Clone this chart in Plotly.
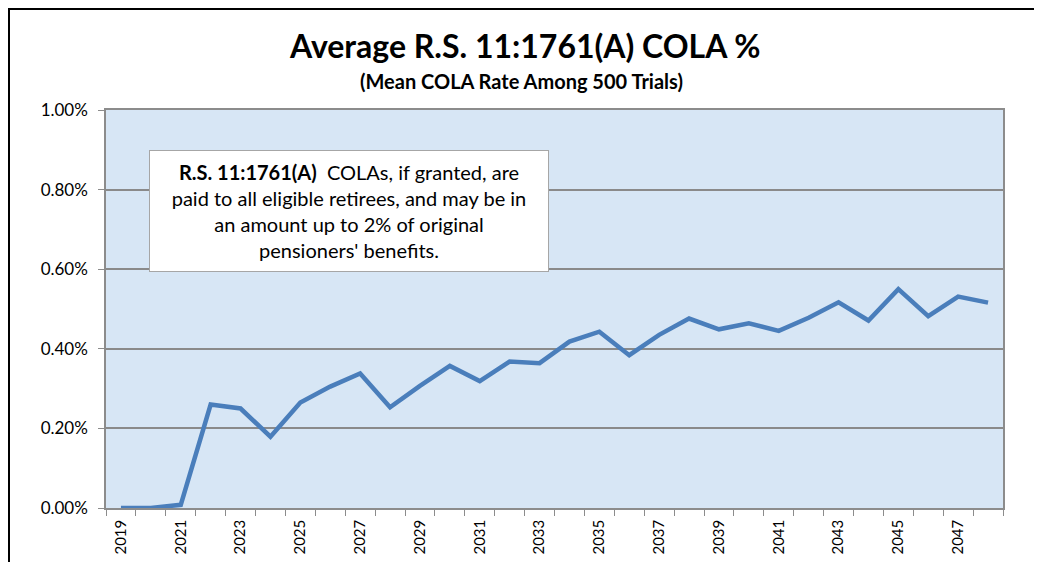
import plotly.graph_objects as go

years = list(range(2019, 2049))
cola_pct = [0.000, 0.000, 0.008, 0.260, 0.250, 0.179, 0.265, 0.305, 0.338, 0.253,
            0.307, 0.357, 0.319, 0.368, 0.364, 0.418, 0.443, 0.384, 0.435, 0.476,
            0.449, 0.464, 0.445, 0.478, 0.517, 0.471, 0.550, 0.482, 0.531, 0.516]
x_tick_years = years[::2]
y_ticks = [0.0, 0.2, 0.4, 0.6, 0.8, 1.0]

title_text = "Average R.S. 11:1761(A) COLA %"
subtitle_text = "(Mean COLA Rate Among 500 Trials)"
note_text = ("<b>R.S. 11:1761(A)</b>  COLAs, if granted, are<br>"
             "paid to all eligible retirees, and may be in<br>"
             "an amount up to 2% of original<br>"
             "pensioners' benefits.")

# the page body adds an 8px offset; work in screen pixels and convert
OFF = 8
W, H = 1042 - 2 * OFF, 570 - 2 * OFF
L, T = 106 - OFF, 110 - OFF
R = W - (1003 - OFF)
B = H - (508 - OFF)
pw, ph = W - L - R, H - T - B

def px(xs):
    return (xs - OFF - L) / pw

def py(ys):
    return (H - B - (ys - OFF)) / ph

FONT = "Lato"

fig = go.Figure()
fig.add_trace(go.Scatter(
    x=years, y=cola_pct, mode="lines",
    line=dict(color="#4a7ebb", width=4.5),
    showlegend=False, hoverinfo="x+y"))

fig.update_layout(
    width=W, height=H,
    margin=dict(l=L, r=R, t=T, b=B, autoexpand=False),
    paper_bgcolor="white",
    plot_bgcolor="#d7e6f5",
    font=dict(family=FONT, color="black", size=16),
    showlegend=False,
    xaxis=dict(
        range=[2018.5, 2048.5], automargin=False,
        tickmode="array", tickvals=x_tick_years,
        ticktext=[str(y) for y in x_tick_years],
        tickangle=-90, ticks="", showgrid=False,
        showline=True, linecolor="#8c8c8c", linewidth=1.5, mirror=True,
        tickfont=dict(family=FONT, size=15),
        ticklabelstandoff=4,
        minor=dict(tick0=2018.5, dtick=1, ticks="outside", ticklen=6,
                   tickcolor="#8c8c8c", tickwidth=1.2, showgrid=False),
        zeroline=False, fixedrange=True,
    ),
    yaxis=dict(
        range=[0, 1.0], automargin=False,
        tickmode="array", tickvals=y_ticks,
        ticktext=[f"{v:.2f}%" for v in y_ticks],
        ticks="outside", ticklen=6, tickcolor="#8c8c8c", tickwidth=1.2,
        ticklabelstandoff=7,
        showgrid=True, gridcolor="#8a8a8a", gridwidth=1.6,
        showline=True, linecolor="#8c8c8c", linewidth=1.5, mirror=True,
        tickfont=dict(family=FONT, size=17),
        zeroline=False, fixedrange=True,
    ),
    annotations=[
        dict(text=f"<b>{title_text}</b>", x=px(524), y=py(46), xref="paper", yref="paper",
             showarrow=False, xanchor="center", yanchor="middle",
             font=dict(family=FONT, size=32, color="black")),
        dict(text=f"<b>{subtitle_text}</b>", x=px(521), y=py(81), xref="paper", yref="paper",
             showarrow=False, xanchor="center", yanchor="middle",
             font=dict(family=FONT, size=20, color="black")),
        dict(text=note_text, x=px(349), y=py(211), xref="paper", yref="paper",
             showarrow=False, xanchor="center", yanchor="middle", align="center",
             width=394, height=116, bgcolor="white", bordercolor="#a6a6a6",
             borderwidth=1, borderpad=2,
             font=dict(family=FONT, size=20, color="black")),
    ],
    shapes=[
        dict(type="line", xref="paper", yref="paper",
             x0=px(OFF + 1), x1=px(OFF + 1), y0=py(700), y1=py(OFF),
             line=dict(color="black", width=2), layer="above"),
        dict(type="line", xref="paper", yref="paper",
             x0=px(OFF), x1=px(1200), y0=py(OFF + 1), y1=py(OFF + 1),
             line=dict(color="black", width=2), layer="above"),
    ],
)

fig.write_html("out.html")
